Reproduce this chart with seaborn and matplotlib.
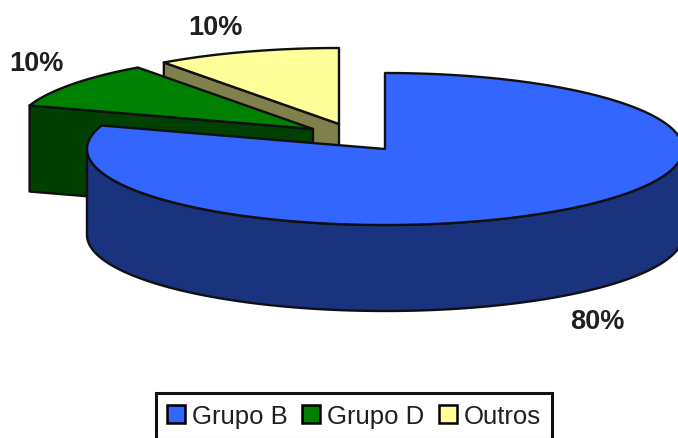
import numpy as np
import matplotlib
matplotlib.use("Agg")
import matplotlib.pyplot as plt
import matplotlib.patches as mpatches
import seaborn as sns

# Data
categories = ['Grupo B', 'Grupo D', 'Outros']
shares = [80, 10, 10]
labels = ['80%', '10%', '10%']

top_colors = ['#3366FF', '#008000', '#FFFF99']
side_colors = ['#1A337F', '#004000', '#80804C']

# centre of each exploded slice in image pixels, and the pie shape
centres = [(385, 150), (313, 130), (339, 125)]
rx, ry = 298, 76
depth = 86
label_pos = [(597, 322), (36, 64), (215, 28)]

sns.set_theme(style="white")
plt.rcParams['font.family'] = ['Liberation Sans', 'DejaVu Sans']

fig = plt.figure(figsize=(6.78, 4.39), dpi=100)
ax = fig.add_axes([0, 0, 1, 1])
ax.set_xlim(0, 678)
ax.set_ylim(439, 0)
ax.axis('off')


def rim(c, a0, a1):
    # angles run clockwise from 12 o'clock, in degrees
    t = np.radians(np.linspace(a0, a1, 120))
    return np.column_stack([c[0] + rx * np.sin(t), c[1] - ry * np.cos(t)])


def draw(poly, color, z):
    ax.add_patch(mpatches.Polygon(poly, closed=True, facecolor=color, edgecolor='#101010',
                                  lw=1.7, joinstyle='round', zorder=z))


# slice angles come from the shares
edges = np.concatenate([[0], np.cumsum(shares)]) * 3.6
down = np.array([0, depth])

# back slices first, the big one last
for i in [2, 1, 0]:
    a0, a1 = edges[i], edges[i + 1]
    c = np.array(centres[i])
    z = 10 - 2 * i
    arc = rim(c, a0, a1)

    # cut face on the counter-clockwise side
    if i > 0:
        draw([c, arc[0], arc[0] + down, c + down], side_colors[i], z)

    # outer wall, only the part facing the viewer
    lo, hi = max(a0, 90), min(a1, 270)
    if hi > lo:
        wall = rim(c, lo, hi)
        draw(np.vstack([wall, (wall + down)[::-1]]), side_colors[i], z)

    draw(np.vstack([[c], arc]), top_colors[i], z + 1)

for txt, pos in zip(labels, label_pos):
    ax.text(pos[0], pos[1], txt, fontsize=19.5, fontweight='bold', color='#202020',
            ha='center', va='center', zorder=20)

handles = [mpatches.Patch(facecolor=col, edgecolor='black', lw=1.8, label=cat)
           for col, cat in zip(top_colors, categories)]
# box runs past the bottom of the image, as in the original
leg = ax.legend(handles=handles, ncol=3, loc='center', bbox_to_anchor=(354 / 678, 1 - 417 / 439),
                frameon=True, fancybox=False, fontsize=18.5, edgecolor='#101010', framealpha=1,
                handlelength=0.72, handleheight=0.72, handletextpad=0.27, columnspacing=0.55,
                borderpad=0.42, borderaxespad=0)
leg.get_frame().set_linewidth(2.2)
leg.set_zorder(30)
for t in leg.get_texts():
    t.set_color('#202020')

plt.savefig('out.png', dpi=100)
